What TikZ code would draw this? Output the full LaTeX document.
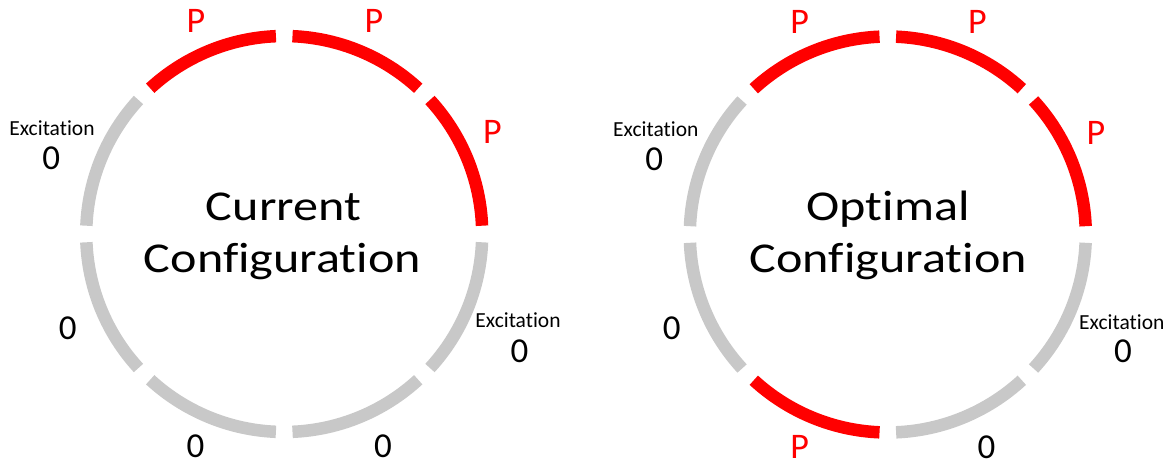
\documentclass[tikz,border=0pt]{standalone}
\usepackage{graphicx}
\usepackage{fontspec}
\setmainfont{Carlito}[Ligatures=NoCommon]
\definecolor{segred}{RGB}{255,0,0}
\definecolor{seggray}{RGB}{200,200,200}
\begin{document}
\begin{tikzpicture}[x=1pt,y=1pt,
  seg/.style={line width=12.5pt, line cap=butt},
  plab/.style={text=segred, font=\fontsize{36}{40}\selectfont, inner sep=0},
  zlab/.style={font=\fontsize{35}{40}\selectfont, inner sep=0},
  elab/.style={font=\fontsize{21.5}{24}\selectfont, inner sep=0},
  titletext/.style={font=\fontsize{42.5}{50}\selectfont, inner sep=0, anchor=base}]
\useasboundingbox (0,0) rectangle (1174,466);
\coordinate (L) at (284.2,232);
\coordinate (R) at (887.8,231.5);
% left ring
\foreach \c/\a in {segred/0, segred/45, segred/90, seggray/135, seggray/180, seggray/225, seggray/270, seggray/315}{
  \pgfmathsetmacro\sa{\a+2.4}
  \pgfmathsetmacro\ea{\a+42.6}
  \draw[seg, draw=\c] (L) ++(\sa:198pt) arc[start angle=\sa, end angle=\ea, radius=198pt];
}
% right ring
\foreach \c/\a in {segred/0, segred/45, segred/90, seggray/135, seggray/180, segred/225, seggray/270, seggray/315}{
  \pgfmathsetmacro\sa{\a+2.4}
  \pgfmathsetmacro\ea{\a+42.6}
  \draw[seg, draw=\c] (R) ++(\sa:198pt) arc[start angle=\sa, end angle=\ea, radius=198pt];
}
% left labels
\node[plab] (lp1) at (196,444.7) {P};
\node[plab] (lp2) at (374,444.7) {P};
\node[plab] (lp3) at (492.5,334) {P};
\node[elab] (le1) at (52,337.7) {Excitation};
\node[zlab] (lz1) at (51.3,307.5) {0};
\node[zlab] (lz2) at (67.7,137.3) {0};
\node[zlab] (lz3) at (195.5,19.5) {0};
\node[zlab] (lz4) at (383,19.5) {0};
\node[elab] (le2) at (518,145.5) {Excitation};
\node[zlab] (lz5) at (519.5,115) {0};
\node[titletext] (lt1) at (283.5,245.3) {\scalebox{1.18}[1]{Current}};
\node[titletext] (lt2) at (282.5,193.3) {\scalebox{1.18}[1]{Configuration}};
% right labels
\node[plab] (rp1) at (799.7,444) {P};
\node[plab] (rp2) at (977.5,444) {P};
\node[plab] (rp3) at (1096,333.2) {P};
\node[elab] (re1) at (655.8,336.8) {Excitation};
\node[zlab] (rz1) at (654.3,307) {0};
\node[zlab] (rz2) at (671.7,137.3) {0};
\node[plab] (rp4) at (799.7,19.5) {P};
\node[zlab] (rz3) at (986.5,19) {0};
\node[elab] (re2) at (1121.8,143.5) {Excitation};
\node[zlab] (rz4) at (1123,114.3) {0};
\node[titletext] (rt1) at (888,245.3) {\scalebox{1.18}[1]{Optimal}};
\node[titletext] (rt2) at (888.3,193.3) {\scalebox{1.18}[1]{Configuration}};
\end{tikzpicture}
\end{document}
